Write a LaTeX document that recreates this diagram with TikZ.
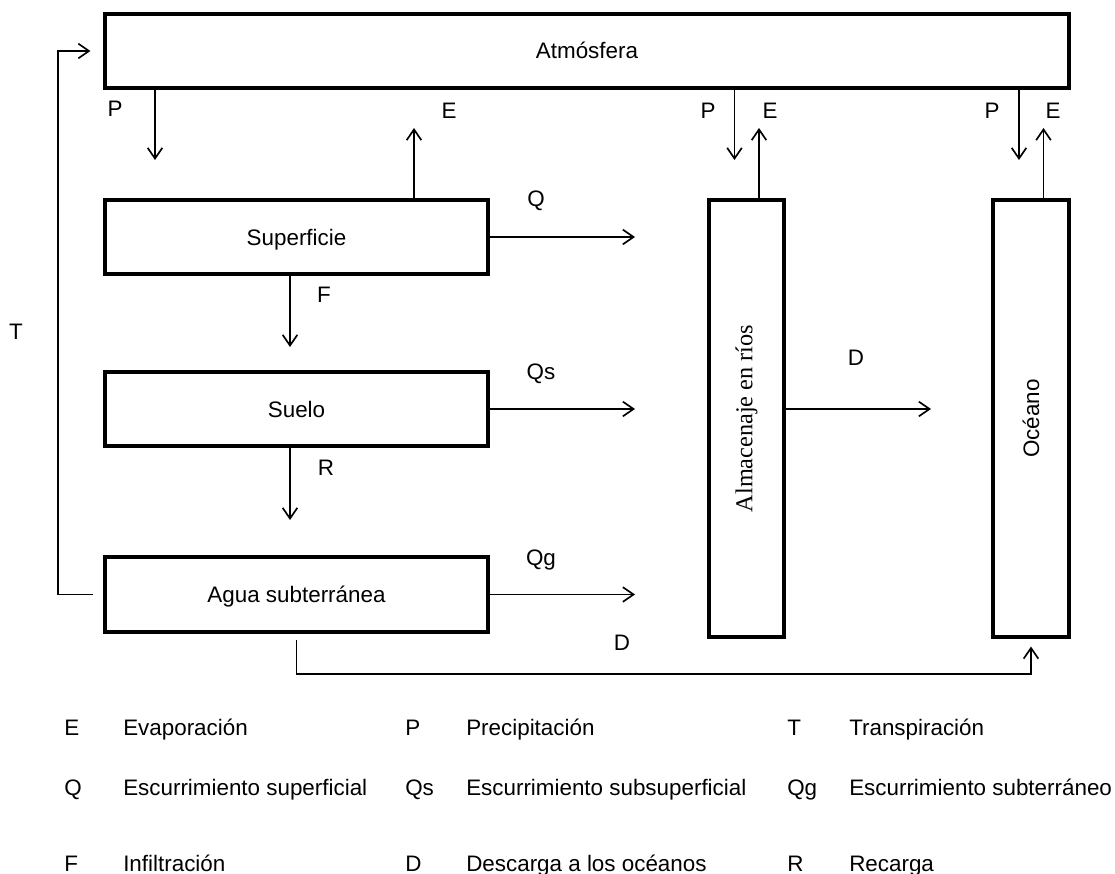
\documentclass[tikz,border=0pt]{standalone}
\usepackage{fontspec}
\setmainfont{Liberation Sans}
\newfontfamily\timesf{Liberation Serif}
\usetikzlibrary{arrows.meta,calc}
\begin{document}
\begin{tikzpicture}[x=0.75pt,y=-0.75pt,
  vbox/.style={draw, line width=2.3pt, inner sep=0pt, font=\fontsize{16.8}{20}\selectfont},
  box/.style={vbox, text height=12pt, text depth=0pt},
  arr/.style={line width=1.25pt, -{Straight Barb[length=8pt,width=11pt]}},
  lab/.style={inner sep=0pt, font=\fontsize{16.8}{20}\selectfont, text height=12pt, text depth=0pt},
  leg/.style={inner sep=0pt, anchor=base west, font=\fontsize{16.8}{20}\selectfont}]
\useasboundingbox (0,0) rectangle (1115,874);
% boxes
\node[box, minimum width=723pt, minimum height=55.5pt] (atm) at (587,51) {Atmósfera};
\node[box, minimum width=287.25pt, minimum height=55.5pt] (sup) at (296.5,237) {Superficie};
\node[box, minimum width=287.25pt, minimum height=55.5pt] (suelo) at (296.5,409) {Suelo};
\node[box, minimum width=287.25pt, minimum height=56.25pt] (agua) at (296.5,594.5) {Agua subterránea};
\node[vbox, minimum width=56.25pt, minimum height=327.75pt] (rio) at (746.5,418.5) {\rotatebox{90}{\timesf\fontsize{18.2}{20}\selectfont Almacenaje en ríos}};
\node[vbox, minimum width=57pt, minimum height=327.75pt] (oce) at (1031,418.5) {\rotatebox{90}{Océano}};
% coordinates
\coordinate (p1) at (155,160);
\coordinate (e1) at (414,128);
\coordinate (q) at (635,237);
\coordinate (f) at (290,347);
\coordinate (qs) at (635,409);
\coordinate (r) at (290,520);
\coordinate (qg) at (635,594.5);
\coordinate (tc) at (58,51);
\coordinate (pr) at (734.5,160);
\coordinate (er) at (759,128);
\coordinate (po) at (1019,160);
\coordinate (eo) at (1043.5,128);
\coordinate (dr) at (931,409);
\coordinate (dl) at (296.5,674);
% connectors
\draw[arr] (atm.south -| p1) -- (p1);
\draw[arr] (sup.north -| e1) -- (e1);
\draw[arr] (sup.east) -- (q);
\draw[arr] (sup.south -| f) -- (f);
\draw[arr] (suelo.east) -- (qs);
\draw[arr] (suelo.south -| r) -- (r);
\draw[arr] (agua.east) -- (qg);
\draw[arr] ([xshift=-7.5pt]agua.west) -| (tc) -- ([xshift=-9.75pt]atm.west);
\draw[arr] (atm.south -| pr) -- (pr);
\draw[arr] (rio.north -| er) -- (er);
\draw[arr] (atm.south -| po) -- (po);
\draw[arr] (oce.north -| eo) -- (eo);
\draw[arr] (rio.east |- dr) -- (dr);
\draw[arr] ([yshift=-4.5pt]agua.south) -- (dl) -| ([yshift=-6pt]oce.south);
% labels
\node[lab] (lp1) at (115,109) {P};
\node[lab] (le1) at (449,110) {E};
\node[lab] (lq) at (536,198) {Q};
\node[lab] (lf) at (324,294) {F};
\node[lab] (lqs) at (541,371) {Qs};
\node[lab] (lr) at (326,467) {R};
\node[lab] (lqg) at (541,557) {Qg};
\node[lab] (lt) at (16,331) {T};
\node[lab] (lpr) at (708,110) {P};
\node[lab] (ler) at (770,110) {E};
\node[lab] (lpo) at (992,110) {P};
\node[lab] (leo) at (1053,110) {E};
\node[lab] (ld1) at (856,357) {D};
\node[lab] (ld2) at (622,642) {D};
% legend
\node[leg] (k1) at (64,735) {E};
\node[leg] (k1t) at (123,735) {Evaporación};
\node[leg] (k2) at (405,735) {P};
\node[leg] (k2t) at (466,735) {Precipitación};
\node[leg] (k3) at (787,735) {T};
\node[leg] (k3t) at (849,735) {Transpiración};
\node[leg] (k4) at (64,795) {Q};
\node[leg] (k4t) at (123,795) {Escurrimiento superficial};
\node[leg] (k5) at (405,795) {Qs};
\node[leg] (k5t) at (466,795) {Escurrimiento subsuperficial};
\node[leg] (k6) at (787,795) {Qg};
\node[leg] (k6t) at (849,795) {Escurrimiento subterráneo};
\node[leg] (k7) at (64,871) {F};
\node[leg] (k7t) at (123,871) {Infiltración};
\node[leg] (k8) at (405,871) {D};
\node[leg] (k8t) at (466,871) {Descarga a los océanos};
\node[leg] (k9) at (787,871) {R};
\node[leg] (k9t) at (849,871) {Recarga};
\end{tikzpicture}
\end{document}
